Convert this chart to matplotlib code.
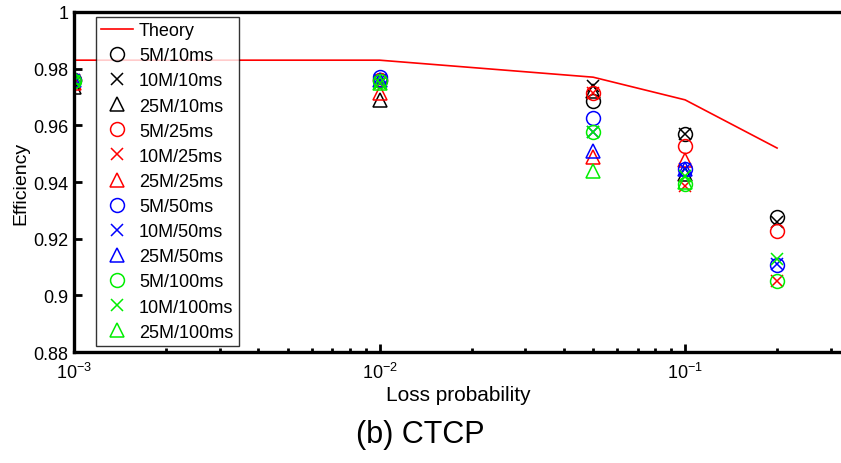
import numpy as np
import matplotlib
matplotlib.use("Agg")
import matplotlib.pyplot as plt
from matplotlib.ticker import FormatStrFormatter, LogLocator

plt.rcParams['font.family'] = ['Liberation Sans', 'DejaVu Sans']

# loss probabilities
loss = [0.001, 0.01, 0.05, 0.1, 0.2]
theory = [0.983, 0.983, 0.977, 0.969, 0.952]

nan = np.nan
# measured efficiency, one list per bandwidth/delay setting
eff_5m_10 = [0.976, 0.976, 0.9686, 0.957, 0.9276]
eff_10m_10 = [0.975, 0.975, 0.9739, 0.957, 0.926]
eff_25m_10 = [0.9735, 0.969, 0.972, 0.9428, nan]
eff_5m_25 = [0.976, 0.976, 0.9714, 0.9527, 0.9227]
eff_10m_25 = [0.976, 0.975, 0.9714, 0.9386, 0.905]
eff_25m_25 = [0.975, 0.9714, 0.9488, 0.9477, nan]
eff_5m_50 = [0.976, 0.977, 0.9626, 0.9446, 0.9107]
eff_10m_50 = [0.976, 0.976, 0.9576, 0.9446, 0.911]
eff_25m_50 = [0.976, 0.976, 0.951, 0.9446, nan]
eff_5m_100 = [0.9755, 0.9755, 0.9576, 0.9393, 0.905]
eff_10m_100 = [0.9755, 0.975, 0.9576, 0.942, 0.9128]
eff_25m_100 = [0.977, 0.975, 0.9439, 0.940, nan]

series = [
    ("5M/10ms", eff_5m_10, "k", "o"),
    ("10M/10ms", eff_10m_10, "k", "x"),
    ("25M/10ms", eff_25m_10, "k", "^"),
    ("5M/25ms", eff_5m_25, "r", "o"),
    ("10M/25ms", eff_10m_25, "r", "x"),
    ("25M/25ms", eff_25m_25, "r", "^"),
    ("5M/50ms", eff_5m_50, "b", "o"),
    ("10M/50ms", eff_10m_50, "b", "x"),
    ("25M/50ms", eff_25m_50, "b", "^"),
    ("5M/100ms", eff_5m_100, "#00ee00", "o"),
    ("10M/100ms", eff_10m_100, "#00ee00", "x"),
    ("25M/100ms", eff_25m_100, "#00ee00", "^"),
]

fig = plt.figure(figsize=(8.41, 4.64), dpi=100)
ax = fig.add_axes([0.088, 0.239, 0.915, 0.733])

ax.plot(loss, theory, color="r", lw=1.2, label="Theory")
for name, vals, col, mk in series:
    ms = 8 if mk == "x" else 10
    ax.plot(loss, vals, linestyle="none", marker=mk, markersize=ms,
            markerfacecolor="none", markeredgecolor=col, markeredgewidth=1.1,
            label=name)

ax.set_xscale("log")
ax.set_xlim(1e-3, 0.33)
ax.set_ylim(0.88, 1.0)
ax.set_yticks(np.arange(0.88, 1.001, 0.02))
ax.yaxis.set_major_formatter(FormatStrFormatter("%g"))
ax.xaxis.set_major_locator(LogLocator(base=10, numticks=10))
ax.xaxis.set_minor_locator(LogLocator(base=10, subs=np.arange(2, 10), numticks=10))

for s in ["left", "bottom", "top"]:
    ax.spines[s].set_linewidth(2.4)
ax.spines["right"].set_visible(False)
ax.tick_params(which="both", direction="in", width=2)
ax.tick_params(axis="y", labelsize=13, pad=4)
ax.tick_params(axis="x", labelsize=13, pad=7)
ax.tick_params(which="major", length=6)
ax.tick_params(which="minor", length=3)

ax.set_xlabel("Loss probability", fontsize=15, labelpad=2)
ax.set_ylabel("Efficiency", fontsize=14, labelpad=3)

leg = ax.legend(loc="upper left", bbox_to_anchor=(0.028, 0.986), borderaxespad=0,
                fontsize=13, frameon=True, fancybox=False, edgecolor="k",
                labelspacing=0.45, handlelength=1.8, handletextpad=0.3,
                borderpad=0.3)
leg.get_frame().set_linewidth(1.0)

fig.text(0.5, 0.062, "(b) CTCP", ha="center", va="center", fontsize=22)

fig.savefig("out.png", dpi=100)
